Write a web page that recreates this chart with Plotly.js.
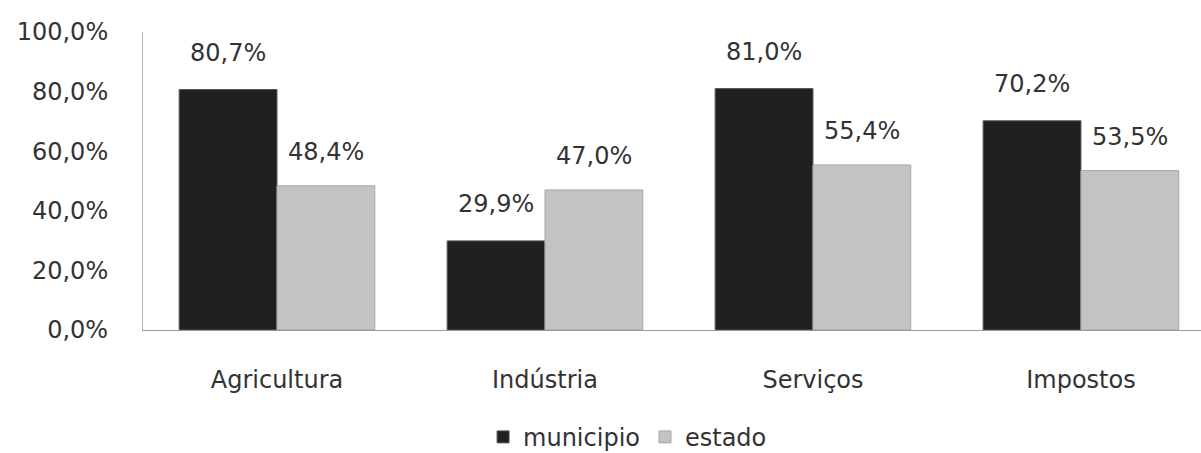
<!DOCTYPE html>
<html><head><meta charset="utf-8">
<script src="https://cdn.plot.ly/plotly-3.0.1.min.js"></script>
<style>body{margin:0;background:#fff}#c{width:1201px;height:453px}</style>
</head><body><div id="c"></div>
<script>
const categories = ["Agricultura", "Indústria", "Serviços", "Impostos"];
const municipio = [80.7, 29.9, 81.0, 70.2];
const estado = [48.4, 47.0, 55.4, 53.5];
const seriesNames = ["municipio", "estado"];
const yTicks = [0, 20, 40, 60, 80, 100];
const yTickLabels = ["0,0%", "20,0%", "40,0%", "60,0%", "80,0%", "100,0%"];

const font = "'DejaVu Sans', sans-serif";
const tc = '#333';
function barTrace(name, vals, color, lineColor){
  return {type:'bar', name:name, x:categories, y:vals,
   marker:{color:color, line:{color:lineColor, width:1}}, hoverinfo:'none'};
}
const traces = [
  barTrace(seriesNames[0], municipio, '#202020', '#555'),
  barTrace(seriesNames[1], estado, '#c3c3c3', '#a8a8a8')
];
function fmt(v){ return v.toFixed(1).replace('.', ',') + '%'; }
const annotations = [];
[[municipio, -49, 37], [estado, 49, 34]].forEach(([vals, dx, dy]) => {
  vals.forEach((v, i) => annotations.push({
    x: categories[i], y: v, xref:'x', yref:'y', text: fmt(v), showarrow:false,
    xshift: dx, yshift: dy, yanchor:'middle', xanchor:'center',
    font:{family:font, size:24, color:tc}
  }));
});
const layout = {
  width:1201, height:453,
  margin:{l:143, r:0, t:32, b:123, autoexpand:false},
  paper_bgcolor:'#fff', plot_bgcolor:'#fff',
  separators:',.',
  barmode:'group', bargap:0.27, bargroupgap:0,
  font:{family:font, size:24, color:tc},
  xaxis:{range:[-0.5, 3.448], showline:true, linecolor:'#999', linewidth:1, automargin:false,
         ticks:'', tickfont:{family:font, size:24, color:tc}, ticklabelstandoff:28},
  yaxis:{range:[0,100], tickvals:yTicks, ticktext:yTickLabels, automargin:false,
         showgrid:false, zeroline:false, showline:true, linecolor:'#bbb', linewidth:1,
         ticks:'', tickfont:{family:font, size:24, color:tc}, ticklabelstandoff:29},
  annotations: annotations,
  showlegend:true,
  legend:{orientation:'h', x:0.458, xanchor:'center', y:-0.36, yanchor:'middle',
          font:{family:font, size:24, color:tc}, itemwidth:30, traceorder:'normal'}
};
Plotly.newPlot('c', traces, layout, {displayModeBar:false, staticPlot:true});
</script></body></html>
